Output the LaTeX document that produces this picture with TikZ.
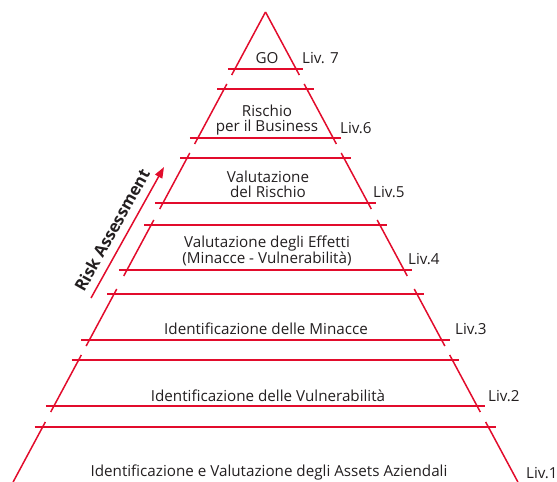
\documentclass[tikz,border=0pt]{standalone}
\usepackage{fontspec}
\setmainfont{Open Sans}
\usetikzlibrary{arrows.meta}

\definecolor{pyrred}{RGB}{226,12,44}
\definecolor{pyrtext}{RGB}{35,31,32}

\tikzset{
  pyrline/.style={draw=pyrred, line width=1.5pt},
  lev/.style={text=pyrtext, font=\fontsize{15.2}{15.5}\selectfont, align=center, inner sep=0pt},
  livlbl/.style={text=pyrtext, font=\fontsize{15.2}{15.5}\selectfont, anchor=west, inner sep=0pt},
}

\begin{document}
\begin{tikzpicture}[x=1pt,y=-1pt]
\useasboundingbox (0,0) rectangle (557,482);
                    % Pyramid (centre 265.5, apex at y=12)
                    \coordinate (apex) at (265.5,12);
                    \draw[pyrline] (apex) -- ({265.5-0.537*63},75);
                    \draw[pyrline] (apex) -- ({265.5+0.537*63},75);
                    \draw[pyrline] ({265.5-0.537*57-7},69) -- ({265.5+0.537*57+7},69);
                    \foreach \t/\b in {89/138, 158/203, 225/270, 294/340, 360/406}{
                        \draw[pyrline] ({265.5-0.537*(\t-12)-7},\t) -- ({265.5+0.537*(\t-12)+7},\t);
                        \draw[pyrline] ({265.5-0.537*(\b-12)-8},\b) -- ({265.5+0.537*(\b-12)+8},\b);
                        \draw[pyrline] ({265.5-0.537*(\t-17)},\t-5) -- ({265.5-0.537*(\b-6)},\b+6);
                        \draw[pyrline] ({265.5+0.537*(\t-17)},\t-5) -- ({265.5+0.537*(\b-6)},\b+6);
                    }
                    \draw[pyrline] ({265.5-0.537*415-8},427) -- ({265.5+0.537*415+8},427);
                    \draw[pyrline] ({265.5-0.537*410},422) -- ({265.5-0.537*470},482);
                    \draw[pyrline] ({265.5+0.537*410},422) -- ({265.5+0.537*470},482);
                    % Levels
                    \node[lev] (go) at (267,58) {GO};
                    \node[lev] (business) at (267,120) {Rischio\\per il Business};
                    \node[lev] (rischio) at (268,184.5) {Valutazione\\del Rischio};
                    \node[lev] (effetti) at (267,251) {Valutazione degli Effetti\\(Minacce - Vulnerabilità)};
                    \node[lev] (minacce) at (266,329) {Identificazione delle Minacce};
                    \node[lev] (vulner) at (268,396) {Identificazione delle Vulnerabilità};
                    \node[lev] (assets) at (269,473) {Identificazione e Valutazione degli Assets Aziendali};
                    % Level labels
                    \node[livlbl] (liv7) at (302,58) {Liv. 7};
                    \node[livlbl] (liv6) at (340,128) {Liv.6};
                    \node[livlbl] (liv5) at (373,192) {Liv.5};
                    \node[livlbl] (liv4) at (408,259) {Liv.4};
                    \node[livlbl] (liv3) at (455,329) {Liv.3};
                    \node[livlbl] (liv2) at (488,396) {Liv.2};
                    \node[livlbl] (liv1) at (526,473) {Liv.1};
                    % Risk assessment arrow
                    \coordinate (rastart) at (91,298);
                    \coordinate (raend) at (164,167);
                    \draw[pyrline, -{Triangle[length=11pt,width=8pt]}] (rastart) -- (raend);
                    \node[text=pyrtext, font=\fontsize{16.5}{18}\selectfont\bfseries, rotate=60.9, inner sep=0pt] (risk) at (112,230) {Risk Assessment};
\end{tikzpicture}
\end{document}
